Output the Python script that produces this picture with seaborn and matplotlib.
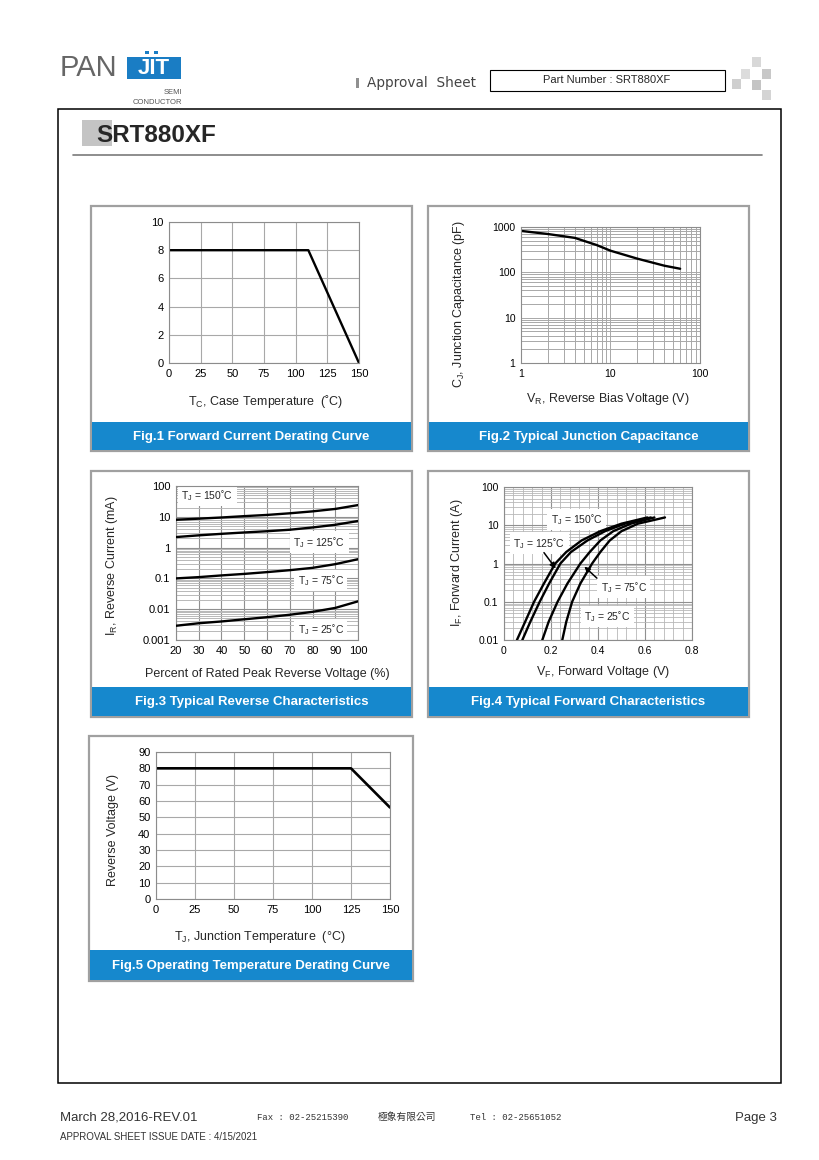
import numpy as np
import pandas as pd
import matplotlib
matplotlib.use("Agg")
import matplotlib.pyplot as plt
import matplotlib.ticker as mticker
from matplotlib.patches import Rectangle
import seaborn as sns

### Données lues sur la fiche technique
# Fig.1 derating du courant direct
fig1_tc = [0, 110, 150]
fig1_if = [8, 8, 0]

# Fig.2 capacite de jonction
fig2_vr = [1, 2, 4, 7, 10, 20, 40, 60]
fig2_cj = [820, 700, 575, 400, 300, 200, 140, 120]

# Fig.3 courant inverse (mA) vs % de la tension inverse
fig3_pct = [20, 30, 40, 50, 60, 70, 80, 90, 100]
fig3_ir_150 = [8.0, 8.7, 9.5, 10.5, 11.5, 13, 15, 18, 24]
fig3_ir_125 = [2.2, 2.5, 2.8, 3.1, 3.4, 3.8, 4.5, 5.5, 7.3]
fig3_ir_75 = [0.1, 0.11, 0.125, 0.14, 0.16, 0.185, 0.22, 0.29, 0.42]
fig3_ir_25 = [0.0029, 0.0035, 0.004, 0.0047, 0.0055, 0.0066, 0.0082, 0.011, 0.018]

# Fig.4 caracteristique directe
fig4_if = [0.01, 0.03, 0.1, 0.3, 1, 2, 4, 7, 11, 16]
fig4_vf_150 = [0.055, 0.09, 0.128, 0.17, 0.218, 0.265, 0.33, 0.41, 0.50, 0.61]
fig4_vf_125 = [0.078, 0.112, 0.152, 0.192, 0.24, 0.285, 0.355, 0.43, 0.515, 0.625]
fig4_vf_75 = [0.163, 0.19, 0.228, 0.27, 0.325, 0.365, 0.41, 0.465, 0.54, 0.64]
fig4_vf_25 = [0.248, 0.265, 0.29, 0.325, 0.375, 0.41, 0.45, 0.5, 0.57, 0.685]

# Fig.5 derating tension inverse
fig5_tj = [0, 125, 150]
fig5_vr = [80, 80, 56]

captions = ["Fig.1 Forward Current Derating Curve",
            "Fig.2 Typical Junction Capacitance",
            "Fig.3 Typical Reverse Characteristics",
            "Fig.4 Typical Forward Characteristics",
            "Fig.5 Operating Temperature Derating Curve"]

### Style
sns.set_theme(style="white")
plt.rcParams["font.family"] = ["Liberation Sans", "DejaVu Sans"]
plt.rcParams["mathtext.fontset"] = "custom"
plt.rcParams["mathtext.rm"] = "Liberation Sans"
plt.rcParams["mathtext.it"] = "Liberation Sans:italic"
plt.rcParams["mathtext.bf"] = "Liberation Sans:bold"

BLUE = "#1688CD"
GRID = "#a8a8a8"
W, H = 820, 1160

fig = plt.figure(figsize=(W / 100, H / 100), dpi=100)
fig.patch.set_facecolor("white")

# fond de page en coordonnees pixel
bg = fig.add_axes([0, 0, 1, 1])
bg.set_xlim(0, W)
bg.set_ylim(H, 0)
bg.axis("off")
bg.set_zorder(-1)

### En-tete
bg.text(60, 68, "PAN", fontsize=21, color="#666666", ha="left", va="center")
bg.add_patch(Rectangle((127, 57), 54, 22, fc="#1a7dc4", ec="none"))
bg.text(154, 68.5, "JIT", fontsize=16, color="white", weight="bold", ha="center", va="center")
bg.add_patch(Rectangle((145.5, 50.5), 3.4, 3.4, fc="#1a7dc4", ec="none"))
bg.add_patch(Rectangle((154.5, 50.5), 3.4, 3.4, fc="#1a7dc4", ec="none"))
bg.text(182, 92, "SEMI", fontsize=5.5, color="#555555", ha="right", va="center")
bg.text(182, 102, "CONDUCTOR", fontsize=5.5, color="#555555", ha="right", va="center")

bg.add_patch(Rectangle((356, 78), 3, 10, fc="#909090", ec="none"))
bg.text(367, 83, "Approval  Sheet", fontsize=9.8, color="#444444", family="DejaVu Sans",
        ha="left", va="center")
bg.add_patch(Rectangle((490, 69.5), 235, 21, fill=False, ec="black", lw=0.8))
bg.text(607, 80, "Part Number : SRT880XF", fontsize=8, ha="center", va="center")
for (x, y, c) in [(752, 57, "#d8d8d8"), (741, 69, "#dcdcdc"), (762, 69, "#c8c8c8"),
                  (732, 79, "#cfcfcf"), (752, 80, "#c4c4c4"), (762, 90, "#d4d4d4")]:
    bg.add_patch(Rectangle((x, y), 9.5, 9.5, fc=c, ec="none"))

# cadre principal
bg.add_patch(Rectangle((58, 109), 723, 974, fill=False, ec="black", lw=1.1))
bg.add_patch(Rectangle((82, 120), 30, 26, fc="#c4c4c4", ec="none"))
bg.text(96, 142, "SRT880XF", fontsize=17.5, weight="bold", ha="left", va="baseline")
bg.plot([73, 762], [155, 155], color="#7a7a7a", lw=1.2)

### Cadres des figures
panels = [(91, 206, 412, 451, 422), (428, 206, 749, 451, 422),
          (91, 471, 412, 717, 687), (428, 471, 749, 717, 687),
          (89, 736, 413, 981, 950)]
for (x0, y0, x1, y1, bt), cap in zip(panels, captions):
    bg.add_patch(Rectangle((x0, y0), x1 - x0, y1 - y0, fill=False, ec="#a0a0a0", lw=1.6))
    bg.add_patch(Rectangle((x0 + 1, bt), x1 - x0 - 2, y1 - bt - 1, fc=BLUE, ec="none"))
    bg.text((x0 + x1) / 2, (bt + y1) / 2 + 0.5, cap, color="white", weight="bold",
            fontsize=9.5, ha="center", va="center")

### Pied de page
bg.text(60, 1118, "March 28,2016-REV.01", fontsize=9.5, color="#333333", ha="left", va="center")
bg.text(257, 1117, "Fax : 02-25215390", fontsize=6.5, family="Liberation Mono",
        color="#333333", ha="left", va="center")
bg.text(378, 1117, "極象有限公司", fontsize=7,
        family=["Noto Sans CJK TC", "DejaVu Sans"], color="#333333", ha="left", va="center")
bg.text(470, 1117, "Tel : 02-25651052", fontsize=6.5, family="Liberation Mono",
        color="#333333", ha="left", va="center")
bg.text(777, 1118, "Page 3", fontsize=9.5, color="#333333", ha="right", va="center")
bg.text(60, 1137, "APPROVAL SHEET ISSUE DATE : 4/15/2021", fontsize=7, color="#333333",
        ha="left", va="center")


def make_ax(box, size=7.5):
    l, t, r, b = box
    ax = fig.add_axes([l / W, 1 - b / H, (r - l) / W, (b - t) / H])
    ax.set_facecolor("white")
    for sp in ax.spines.values():
        sp.set_color("#8c8c8c")
        sp.set_linewidth(0.8)
    ax.tick_params(which="both", length=0, pad=4, labelsize=size, colors="black")
    return ax


def label_x(ax, box, text, cx, cy, size=9):
    l, t, r, b = box
    ax.set_xlabel(text, fontsize=size)
    ax.xaxis.set_label_coords((cx - l) / (r - l), (b - cy) / (b - t))
    ax.xaxis.label.set_va("center")


def label_y(ax, box, text, cx, cy, size=9):
    l, t, r, b = box
    ax.set_ylabel(text, fontsize=size)
    ax.yaxis.set_label_coords((cx - l) / (r - l), (b - cy) / (b - t))
    ax.yaxis.label.set_va("center")


fmt_g = mticker.FuncFormatter(lambda v, p: f"{v:g}")
TJ = r"T$_\mathregular{J}$"

### Fig.1
box1 = (169, 222, 359, 363)
ax1 = make_ax(box1, 8)
sns.lineplot(x=fig1_tc, y=fig1_if, ax=ax1, color="black", lw=1.7)
ax1.set_xlim(0, 150)
ax1.set_ylim(0, 10)
ax1.set_xticks(range(0, 151, 25))
ax1.set_yticks(range(0, 11, 2))
ax1.grid(True, color=GRID, lw=0.8)
label_x(ax1, box1, r"T$_\mathregular{C}$, Case Temperature  (˚C)", 266, 401)

### Fig.2
box2 = (521, 227, 700, 363)
ax2 = make_ax(box2)
sns.lineplot(x=fig2_vr, y=fig2_cj, ax=ax2, color="black", lw=1.7)
ax2.set_xscale("log")
ax2.set_yscale("log")
ax2.set_xlim(1, 100)
ax2.set_ylim(1, 1000)
for a in (ax2.xaxis, ax2.yaxis):
    a.set_major_locator(mticker.LogLocator(base=10))
    a.set_minor_locator(mticker.LogLocator(base=10, subs=np.arange(2, 10)))
    a.set_major_formatter(fmt_g)
    a.set_minor_formatter(mticker.NullFormatter())
ax2.grid(True, which="both", color=GRID, lw=0.7)
label_x(ax2, box2, r"V$_\mathregular{R}$, Reverse Bias Voltage (V)", 608, 399)
label_y(ax2, box2, r"C$_\mathregular{J}$, Junction Capacitance (pF)", 459, 304)

### Fig.3
box3 = (176, 486, 358, 640)
ax3 = make_ax(box3, 8)
df3 = pd.DataFrame({
    "pct": fig3_pct * 4,
    "ir": fig3_ir_150 + fig3_ir_125 + fig3_ir_75 + fig3_ir_25,
    "tj": ["150"] * 9 + ["125"] * 9 + ["75"] * 9 + ["25"] * 9,
})
sns.lineplot(data=df3, x="pct", y="ir", hue="tj", palette=["black"] * 4,
             legend=False, ax=ax3, lw=1.7, zorder=3)
ax3.set_yscale("log")
ax3.set_xlim(20, 100)
ax3.set_ylim(0.001, 100)
ax3.set_xticks(range(20, 101, 10))
ax3.yaxis.set_major_locator(mticker.LogLocator(base=10))
ax3.yaxis.set_minor_locator(mticker.LogLocator(base=10, subs=np.arange(2, 10)))
ax3.yaxis.set_major_formatter(fmt_g)
ax3.yaxis.set_minor_formatter(mticker.NullFormatter())
ax3.grid(True, which="major", color="#909090", lw=0.8)
ax3.grid(True, which="minor", axis="y", color="#b8b8b8", lw=0.7)
label_x(ax3, box3, "Percent of Rated Peak Reverse Voltage (%)", 267, 674)
label_y(ax3, box3, r"I$_\mathregular{R}$, Reverse Current (mA)", 112, 566)
lbl = dict(fontsize=7.5, ha="center", va="center", zorder=2.5,
           bbox=dict(fc="white", ec="none", pad=2.5))
ax3.text(33.7, 50, TJ + " = 150˚C", **lbl)
ax3.text(82.9, 1.5, TJ + " = 125˚C", **lbl)
ax3.text(83.6, 0.085, TJ + " = 75˚C", **lbl)
ax3.text(83.6, 0.0021, TJ + " = 25˚C", **lbl)

### Fig.4
box4 = (504, 487, 692, 640)
ax4 = make_ax(box4)
df4 = pd.DataFrame({
    "vf": fig4_vf_150 + fig4_vf_125 + fig4_vf_75 + fig4_vf_25,
    "if": fig4_if * 4,
    "tj": ["150"] * 10 + ["125"] * 10 + ["75"] * 10 + ["25"] * 10,
})
sns.lineplot(data=df4, x="vf", y="if", hue="tj", palette=["black"] * 4,
             legend=False, sort=False, estimator=None, ax=ax4, lw=1.7, zorder=3)
ax4.set_yscale("log")
ax4.set_xlim(0, 0.8)
ax4.set_ylim(0.01, 100)
ax4.set_xticks(np.arange(0, 0.81, 0.2))
ax4.xaxis.set_minor_locator(mticker.AutoMinorLocator(5))
ax4.xaxis.set_major_formatter(fmt_g)
ax4.yaxis.set_major_locator(mticker.LogLocator(base=10))
ax4.yaxis.set_minor_locator(mticker.LogLocator(base=10, subs=np.arange(2, 10)))
ax4.yaxis.set_major_formatter(fmt_g)
ax4.yaxis.set_minor_formatter(mticker.NullFormatter())
ax4.grid(True, which="major", color="#909090", lw=0.8)
ax4.grid(True, which="minor", color="#b8b8b8", lw=0.6)
label_x(ax4, box4, r"V$_\mathregular{F}$, Forward Voltage (V)", 603, 672)
label_y(ax4, box4, r"I$_\mathregular{F}$, Forward Current (A)", 457, 563)
ax4.text(0.31, 14, TJ + " = 150˚C", **lbl)
ax4.text(0.150, 3.4, TJ + " = 125˚C", **lbl)
ax4.text(0.51, 0.24, TJ + " = 75˚C", **lbl)
ax4.text(0.44, 0.041, TJ + " = 25˚C", **lbl)
arr = dict(arrowstyle="-|>", color="black", lw=1.1, mutation_scale=8)
ax4.annotate("", xy=(0.227, 0.65), xytext=(0.163, 2.2), arrowprops=arr, zorder=4)
ax4.annotate("", xy=(0.333, 0.93), xytext=(0.404, 0.37), arrowprops=arr, zorder=4)

### Fig.5
box5 = (156, 752, 390, 899)
ax5 = make_ax(box5, 8)
sns.lineplot(x=fig5_tj, y=fig5_vr, ax=ax5, color="black", lw=1.9)
ax5.set_xlim(0, 150)
ax5.set_ylim(0, 90)
ax5.set_xticks(range(0, 151, 25))
ax5.set_yticks(range(0, 91, 10))
ax5.grid(True, color=GRID, lw=0.8)
label_x(ax5, box5, r"T$_\mathregular{J}$, Junction Temperature  (°C)", 260, 937)
label_y(ax5, box5, "Reverse Voltage (V)", 113, 830)

fig.savefig("out.png", dpi=100)
